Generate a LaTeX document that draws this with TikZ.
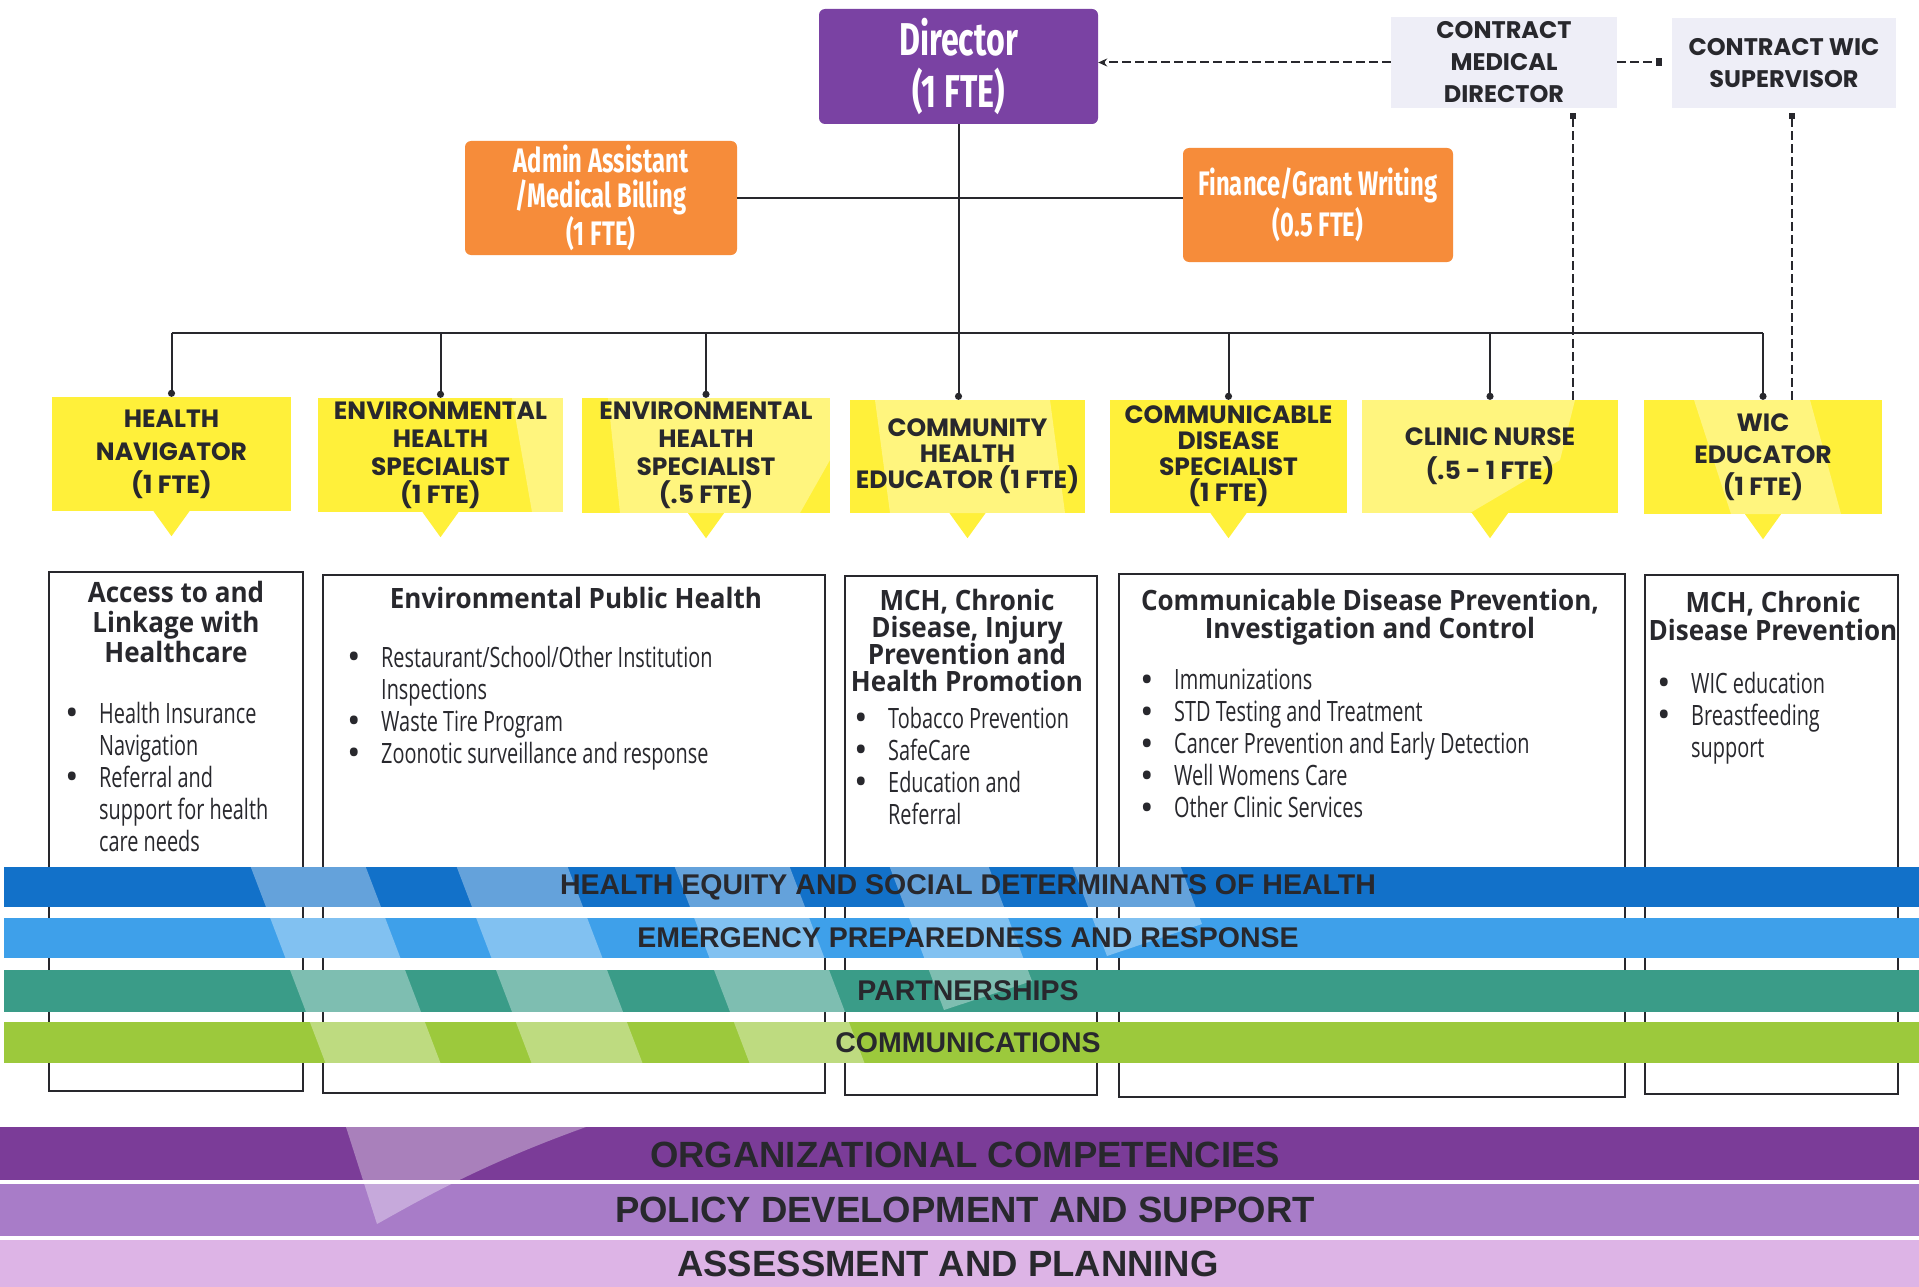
\documentclass[tikz,border=0pt]{standalone}
\usepackage{fontspec}
\setmainfont{Open Sans}
\newfontfamily\condfont[FakeStretch=0.7]{Fira Sans}
\newfontfamily\capsfont{Poppins}
\newfontfamily\headfont[FakeStretch=0.93]{Open Sans}
\newfontfamily\listfont[FakeStretch=0.71]{Open Sans}
\newfontfamily\bulfont{Open Sans}
\newfontfamily\bandfont{Liberation Sans}
\usetikzlibrary{arrows.meta}

\newcommand{\listbul}{\makebox[34pt][l]{\raisebox{-2.5pt}{\bulfont\fontsize{36}{32}\selectfont\textbullet}}}
\newcommand{\listind}{\hspace*{34pt}}

\begin{document}
\begin{tikzpicture}[x=1pt,y=-1pt,
  conn/.style={draw=ink,line width=2pt},
  enddot/.style={-{Circle[length=7pt]}},
  dashline/.style={draw=ink,line width=2pt,dash pattern=on 9pt off 4pt},
  topbox/.style={rounded corners=6pt,inner sep=0pt,align=center,text=white},
  ylwbox/.style={fill=ylw,inner sep=0pt},
  ylwtext/.style={inner sep=0pt,align=center,text=ink,font=\capsfont\bfseries\fontsize{25}{28}\selectfont},
  contract/.style={fill=lav,inner sep=0pt,align=center,text=ink,font=\capsfont\bfseries\fontsize{24}{32}\selectfont},
  areabox/.style={draw=ink,line width=1.6pt,fill=white,inner sep=0pt},
  areahead/.style={anchor=north,align=center,inner sep=0pt,text=ink,font=\headfont\bfseries\fontsize{28}{28}\selectfont},
  arealist/.style={anchor=north west,align=left,inner sep=0pt,text=ink,font=\listfont\fontsize{28}{32}\selectfont},
  bandlbl/.style={text=ink,inner sep=0pt,font=\bandfont\bfseries\fontsize{28.5}{30}\selectfont},
  baselbl/.style={text=ink,inner sep=0pt,font=\bandfont\bfseries\fontsize{36.5}{38}\selectfont},
  shine/.style={fill=white,fill opacity=0.35}]
% Define colors
\definecolor{ink}{RGB}{40,40,45}
\definecolor{dirpurple}{RGB}{122,66,163}
\definecolor{orng}{RGB}{246,140,58}
\definecolor{lav}{RGB}{238,238,247}
\definecolor{ylw}{RGB}{255,240,58}
\definecolor{bandone}{RGB}{18,113,201}
\definecolor{bandtwo}{RGB}{62,160,234}
\definecolor{bandthree}{RGB}{58,156,136}
\definecolor{bandfour}{RGB}{156,201,60}
\definecolor{orgpurple}{RGB}{123,60,152}
\definecolor{polpurple}{RGB}{168,124,200}
\definecolor{asmpink}{RGB}{221,180,230}

\useasboundingbox (0,0) rectangle (1919,1287);
\fill[white] (0,0) rectangle (1919,1287);

% Director and support staff
\node[topbox,fill=dirpurple,minimum width=279pt,minimum height=115pt,
  font=\condfont\bfseries\fontsize{46}{52}\selectfont] (dir) at (958.5,66.5) {Director\\(1 FTE)};
\node[topbox,fill=orng,minimum width=272pt,minimum height=114pt,
  font=\condfont\bfseries\fontsize{34}{35}\selectfont] (admin) at (601,198) {Admin Assistant\\/Medical Billing\\(1 FTE)};
\node[topbox,fill=orng,minimum width=270pt,minimum height=114pt,
  font=\condfont\bfseries\fontsize{34}{41}\selectfont] (fin) at (1318,205) {Finance/Grant Writing\\(0.5 FTE)};

% Contract positions
\node[contract,minimum width=226pt,minimum height=91pt] (cmd) at (1504,62.5) {CONTRACT\\MEDICAL\\DIRECTOR};
\node[contract,minimum width=224pt,minimum height=90pt] (cws) at (1784,63) {CONTRACT WIC\\SUPERVISOR};

% Staff positions (yellow)
\node[ylwbox,minimum width=239pt,minimum height=114pt] (hn) at (171.5,454) {};
\node[ylwbox,minimum width=245pt,minimum height=114pt] (env1) at (440.5,455) {};
\node[ylwbox,minimum width=248pt,minimum height=115pt] (env2) at (706,455.5) {};
\node[ylwbox,minimum width=235pt,minimum height=113pt] (cmty) at (967.5,456.5) {};
\node[ylwbox,minimum width=237pt,minimum height=113pt] (cdis) at (1228.5,456.5) {};
\node[ylwbox,minimum width=256pt,minimum height=113pt] (nurse) at (1490,456.5) {};
\node[ylwbox,minimum width=238pt,minimum height=114pt] (wic) at (1763,457) {};

% Pointers under the yellow boxes
\foreach \n in {hn,env1,env2,cmty,cdis,nurse,wic}
  \fill[ylw] ([xshift=-18pt]\n.south) -- ([xshift=18pt]\n.south) -- ([yshift=-25pt]\n.south) -- cycle;

% Lighter patches on the yellow boxes
\fill[shine] (512,398) -- (563,398) -- (563,512) -- (532,512) -- cycle;
\fill[shine] (608,398) -- (830,398) -- (830,460) -- (800,513) -- (620,513) -- cycle;
\fill[shine] (875,400) -- (1050,400) -- (1065,513) -- (890,513) -- cycle;
\fill[shine] (1362,400) -- (1575,400) -- (1560,460) -- (1470,513) -- (1362,513) -- cycle;
\fill[shine] (1694,400) -- (1810,400) -- (1841,514) -- (1731,514) -- cycle;

\node[ylwtext] (hnlbl) at (hn) {HEALTH\\[5pt]NAVIGATOR\\[5pt](1 FTE)};
\node[ylwtext] (env1lbl) at (env1) {ENVIRONMENTAL\\HEALTH\\SPECIALIST\\(1 FTE)};
\node[ylwtext] (env2lbl) at (env2) {ENVIRONMENTAL\\HEALTH\\SPECIALIST\\(.5 FTE)};
\node[ylwtext] (cmtylbl) at (cmty) {COMMUNITY\\[-2pt]HEALTH\\[-2pt]EDUCATOR (1 FTE)};
\node[ylwtext] (cdislbl) at (cdis) {COMMUNICABLE\\[-2pt]DISEASE\\[-2pt]SPECIALIST\\[-2pt](1 FTE)};
\node[ylwtext] (nurselbl) at (nurse) {CLINIC NURSE\\[6pt](.5 - 1 FTE)};
\node[ylwtext] (wiclbl) at (wic) {WIC\\[4pt]EDUCATOR\\[4pt](1 FTE)};

% Reporting lines
\coordinate (bus) at (0,333);
\draw[conn] (hn.north |- bus) -- (wic.north |- bus);
\foreach \n in {hn,env1,env2,cdis,nurse,wic}
  \draw[conn,enddot] (\n.north |- bus) -- (\n.north);
\draw[conn,enddot] (dir.south) -- (dir.south |- cmty.north);
\draw[conn] (admin.east) -- (admin.east -| fin.west);

% Contract links (dashed)
\draw[dashline,-{Stealth[length=9pt,width=8pt]}] (cmd.west) -- (cmd.west -| dir.east);
\draw[dashline,-{Square[length=6pt,width=8pt]},shorten >=10pt] (cmd.east) -- (cmd.east -| cws.west);
\coordinate (cmdtap) at ([xshift=69pt,yshift=-5pt]cmd.south);
\coordinate (cwstap) at ([xshift=8pt,yshift=-5pt]cws.south);
\draw[dashline,line width=1.6pt,{Square[length=6pt,width=6pt]}-] (cmdtap) -- (cmdtap |- nurse.north);
\draw[dashline,line width=1.6pt,{Square[length=6pt,width=6pt]}-] (cwstap) -- (cwstap |- wic.north);

% Program areas (white boxes)
\node[areabox,minimum width=254pt,minimum height=519pt] (accbox) at (176,831.5) {};
\node[areabox,minimum width=502pt,minimum height=518pt] (envbox) at (574,834) {};
\node[areabox,minimum width=252pt,minimum height=519pt] (mchbox) at (971,835.5) {};
\node[areabox,minimum width=506pt,minimum height=523pt] (cdbox) at (1372,835.5) {};
\node[areabox,minimum width=253pt,minimum height=519pt] (wicbox) at (1771.5,834.5) {};

\node[areahead] (acchead) at (176,581) {Access to and\\[2pt]Linkage with\\[2pt]Healthcare};
\node[areahead] (envhead) at (576,587) {Environmental Public Health};
\node[areahead] (mchhead) at (967,589) {MCH, Chronic\\[-1pt]Disease, Injury\\[-1pt]Prevention and\\[-1pt]Health Promotion};
\node[areahead] (cdhead) at (1370,589) {Communicable Disease Prevention,\\Investigation and Control};
\node[areahead] (wichead) at (1773,591) {MCH, Chronic\\Disease Prevention};

\node[arealist] (acclist) at (65,702) {\listbul Health Insurance\\\listind Navigation\\\listbul Referral and\\\listind support for health\\\listind care needs};
\node[arealist] (envlist) at (347,646) {\listbul Restaurant/School/Other Institution\\\listind Inspections\\\listbul Waste Tire Program\\\listbul Zoonotic surveillance and response};
\node[arealist] (mchlist) at (854,707) {\listbul Tobacco Prevention\\\listbul SafeCare\\\listbul Education and\\\listind Referral};
\node[arealist] (cdlist) at (1140,669) {\listbul Immunizations\\\listbul STD Testing and Treatment\\\listbul Cancer Prevention and Early Detection\\\listbul Well Womens Care\\\listbul Other Clinic Services};
\node[arealist] (wiclist) at (1657,672) {\listbul WIC education\\\listbul Breastfeeding\\\listind support};

% Cross-cutting bands
\fill[bandone] (4,867) rectangle (1919,907);
\fill[bandtwo] (4,918) rectangle (1919,958);
\fill[bandthree] (4,970) rectangle (1919,1012);
\fill[bandfour] (4,1022) rectangle (1919,1063);
\begin{scope}
\clip (4,867) rectangle (1919,907) (4,918) rectangle (1919,958)
      (4,970) rectangle (1919,1012) (4,1022) rectangle (1919,1063);
\foreach \a/\b in {250/365,456/567,674/789}
  \fill[shine] (\a,865) -- (\b,865) -- (\b+77,1067) -- (\a+77,1067) -- cycle;
\fill[shine] (889,865) -- (988,865) -- (1032,981) -- (944,1010) -- cycle;
\fill[shine] (1072,865) -- (1180,865) -- (1202,924) -- (1107,956) -- cycle;
\end{scope}
\node[bandlbl] (heq) at (968,887) {HEALTH EQUITY AND SOCIAL DETERMINANTS OF HEALTH};
\node[bandlbl] (epr) at (968,938) {EMERGENCY PREPAREDNESS AND RESPONSE};
\node[bandlbl] (prt) at (968,991) {PARTNERSHIPS};
\node[bandlbl] (com) at (968,1042.5) {COMMUNICATIONS};

% Foundation bands
\fill[orgpurple] (0,1127) rectangle (1919,1180);
\fill[polpurple] (0,1184) rectangle (1919,1236);
\fill[asmpink] (0,1240) rectangle (1919,1287);
\begin{scope}
\clip (0,1127) rectangle (1919,1180) (0,1184) rectangle (1919,1236);
\fill[shine] (346,1127) -- (586,1127) .. controls (480,1165) and (420,1200) .. (377,1224) -- cycle;
\end{scope}
\node[baselbl] (org) at (965,1155) {ORGANIZATIONAL COMPETENCIES};
\node[baselbl] (pol) at (965,1210) {POLICY DEVELOPMENT AND SUPPORT};
\node[baselbl] (asm) at (948,1264) {ASSESSMENT AND PLANNING};

\end{tikzpicture}
\end{document}
